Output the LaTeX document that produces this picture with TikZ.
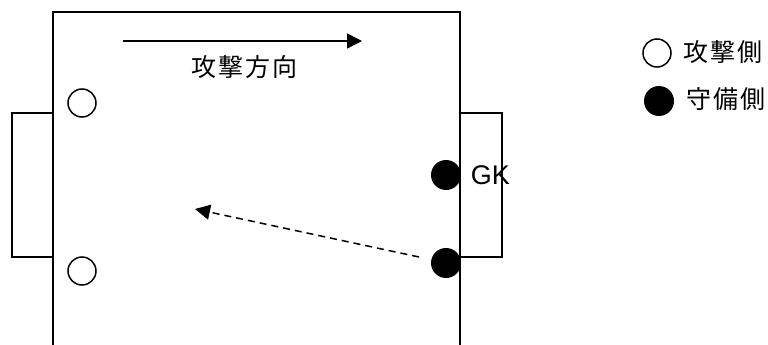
\documentclass[tikz,border=0pt]{standalone}
\usepackage{fontspec}
\setmainfont{Liberation Sans}
\newfontfamily\cjk[LetterSpace=8]{Noto Sans CJK JP}
\usetikzlibrary{arrows.meta}
\begin{document}
\begin{tikzpicture}[x=1pt,y=-1pt,line width=1.5pt,
  openp/.style={circle,draw,line width=1.5pt,minimum size=28pt,inner sep=0pt},
  fillp/.style={circle,fill=black,minimum size=30pt,inner sep=0pt},
  cjklab/.style={inner sep=0pt,font=\cjk\fontsize{25}{29}\selectfont},
  tip/.style={-{Triangle[length=15pt,width=15pt]}}]
\useasboundingbox (0,0) rectangle (768,345);
% pitch
\draw (53,345) -- (53,12) -- (460,12) -- (460,345);
% goals
\draw (53,113) -- (12,113) -- (12,257) -- (53,257);
\draw (460,113) -- (502,113) -- (502,257) -- (460,257);
% players
\node[openp] (a1) at (82,103) {};
\node[openp] (a2) at (82,271) {};
\node[fillp] (gk) at (446,175) {};
\node[fillp] (d2) at (446,263) {};
\node[anchor=west,inner sep=0pt,font=\fontsize{27}{30}\selectfont] (gklab) at (470,175) {GK};
% attack direction
\coordinate (as) at (123,41);
\coordinate (ae) at (362,41);
\draw[tip] (as) -- (ae);
\node[cjklab] (dir) at (244,67) {攻撃方向};
% pass
\coordinate (ds) at (419,257);
\coordinate (dt) at (195,209);
\draw[tip,dash pattern=on 7pt off 5pt] (ds) -- (dt);
% legend
\node[openp] (l1) at (657,53) {};
\node[cjklab] (l1t) at (723,52) {攻撃側};
\node[fillp] (l2) at (659,101) {};
\node[cjklab] (l2t) at (726,99) {守備側};
\end{tikzpicture}
\end{document}
